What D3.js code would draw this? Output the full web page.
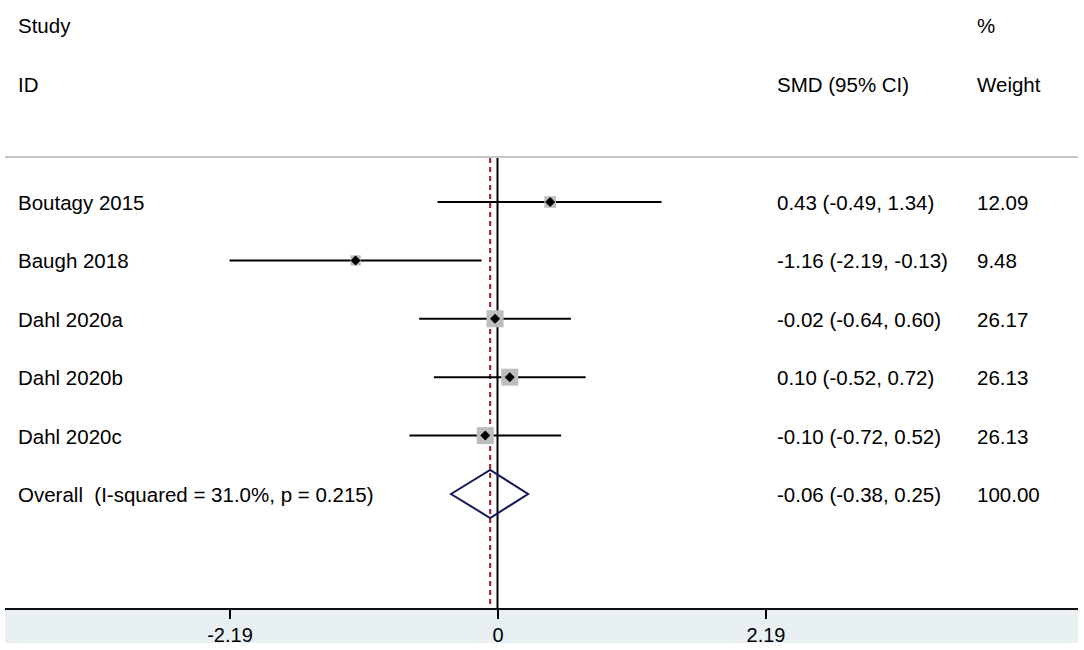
<!DOCTYPE html>
<meta charset="utf-8">
<head>
  <script src="https://d3js.org/d3.v7.min.js"></script>
  <style>
    body { margin: 0; background: #fff; }
    text { font-family: "Liberation Sans", Arial, sans-serif; font-size: 20.5px; fill: #000; white-space: pre; }
  </style>
</head>
<body>
  <div id="my_dataviz"></div>
</body>
<script>
  // study data
  var studies = ["Boutagy 2015", "Baugh 2018", "Dahl 2020a", "Dahl 2020b", "Dahl 2020c"];
  var smd = [0.43, -1.16, -0.02, 0.10, -0.10];
  var lower = [-0.49, -2.19, -0.64, -0.52, -0.72];
  var upper = [1.34, -0.13, 0.60, 0.72, 0.52];
  var weights = [12.09, 9.48, 26.17, 26.13, 26.13];

  // pooled estimate
  var overallLabel = "Overall  (I-squared = 31.0%, p = 0.215)";
  var overall = { est: -0.06, lo: -0.38, hi: 0.25, weight: 100.00 };

  var tickValues = [-2.19, 0, 2.19];
  var tickLabels = ["-2.19", "0", "2.19"];

  var width = 1084, height = 650;
  var left = 5, right = 1078;
  var axisY = 609;

  var svg = d3.select("#my_dataviz")
    .append("svg")
    .attr("width", width)
    .attr("height", height);

  var x = d3.scaleLinear()
    .domain([-2.19, 2.19])
    .range([229.5, 765.5]);

  var rowNames = studies.concat([overallLabel]);
  var y = d3.scalePoint()
    .domain(rowNames)
    .range([202, 494]);

  // shaded band under axis
  svg.append("rect")
    .attr("x", left).attr("y", axisY)
    .attr("width", right - left).attr("height", 34)
    .attr("fill", "#e8f0f3");

  // header
  svg.append("text").attr("x", 18).attr("y", 33).text("Study");
  svg.append("text").attr("x", 18).attr("y", 92).text("ID");
  svg.append("text").attr("x", 777).attr("y", 92).text("SMD (95% CI)");
  svg.append("text").attr("x", 977).attr("y", 33).text("%");
  svg.append("text").attr("x", 977).attr("y", 92).text("Weight");

  svg.append("line")
    .attr("x1", left).attr("x2", right)
    .attr("y1", 157).attr("y2", 157)
    .attr("stroke", "#c6c6c6").attr("stroke-width", 2);

  // null line
  svg.append("line")
    .attr("x1", x(0)).attr("x2", x(0))
    .attr("y1", 158).attr("y2", axisY)
    .attr("stroke", "#000").attr("stroke-width", 2);

  // overall estimate line
  svg.append("line")
    .attr("x1", x(overall.est)).attr("x2", x(overall.est))
    .attr("y1", 158).attr("y2", axisY)
    .attr("stroke", "#9a1c1c").attr("stroke-width", 2)
    .attr("stroke-dasharray", "5,4");

  var data = studies.map(function (s, i) {
    return { name: s, est: smd[i], lo: lower[i], hi: upper[i], w: weights[i] };
  });

  // CI lines
  svg.selectAll(".ci")
    .data(data)
    .enter()
    .append("line")
    .attr("x1", function (d) { return x(d.lo); })
    .attr("x2", function (d) { return x(d.hi); })
    .attr("y1", function (d) { return y(d.name); })
    .attr("y2", function (d) { return y(d.name); })
    .attr("stroke", "#000").attr("stroke-width", 2);

  // weight boxes
  var boxSize = d3.scaleSqrt().domain([0, 26.17]).range([0, 17]);
  svg.selectAll(".box")
    .data(data)
    .enter()
    .append("rect")
    .attr("x", function (d) { return x(d.est) - boxSize(d.w) / 2; })
    .attr("y", function (d) { return y(d.name) - boxSize(d.w) / 2; })
    .attr("width", function (d) { return boxSize(d.w); })
    .attr("height", function (d) { return boxSize(d.w); })
    .attr("fill", "#bdbdbd");

  // point markers
  svg.selectAll(".pt")
    .data(data)
    .enter()
    .append("path")
    .attr("d", "M0,-5L5,0L0,5L-5,0Z")
    .attr("transform", function (d) { return "translate(" + x(d.est) + "," + y(d.name) + ")"; })
    .attr("fill", "#000");

  // overall diamond
  var oy = y(overallLabel);
  svg.append("path")
    .attr("d", "M" + x(overall.lo) + "," + oy +
      "L" + x(overall.est) + "," + (oy - 24) +
      "L" + x(overall.hi) + "," + oy +
      "L" + x(overall.est) + "," + (oy + 24) + "Z")
    .attr("fill", "none")
    .attr("stroke", "#14185a").attr("stroke-width", 2);

  // labels
  svg.selectAll(".lab")
    .data(rowNames)
    .enter()
    .append("text")
    .attr("x", 18)
    .attr("y", function (d) { return y(d) + 8; })
    .text(function (d) { return d; });

  function f(v) { return v.toFixed(2); }
  var ciText = data.map(function (d) {
    return f(d.est) + " (" + f(d.lo) + ", " + f(d.hi) + ")";
  }).concat([f(overall.est) + " (" + f(overall.lo) + ", " + f(overall.hi) + ")"]);
  var wText = weights.map(f).concat([f(overall.weight)]);

  svg.selectAll(".citext")
    .data(rowNames)
    .enter()
    .append("text")
    .attr("x", 777)
    .attr("y", function (d) { return y(d) + 8; })
    .text(function (d, i) { return ciText[i]; });

  svg.selectAll(".wtext")
    .data(rowNames)
    .enter()
    .append("text")
    .attr("x", 977)
    .attr("y", function (d) { return y(d) + 8; })
    .text(function (d, i) { return wText[i]; });

  // x axis
  var axis = svg.append("g")
    .attr("transform", "translate(0," + axisY + ")")
    .call(d3.axisBottom(x)
      .tickValues(tickValues)
      .tickFormat(function (d, i) { return tickLabels[i]; })
      .tickSize(10)
      .tickSizeOuter(0));
  axis.select(".domain").remove();
  axis.selectAll(".tick line").attr("stroke", "#000").attr("stroke-width", 2);
  axis.selectAll(".tick text")
    .attr("y", 19)
    .style("font-size", "20px")
    .style("font-family", "Liberation Sans, Arial, sans-serif");
  svg.append("line")
    .attr("x1", left).attr("x2", right)
    .attr("y1", axisY).attr("y2", axisY)
    .attr("stroke", "#111").attr("stroke-width", 2);
</script>
